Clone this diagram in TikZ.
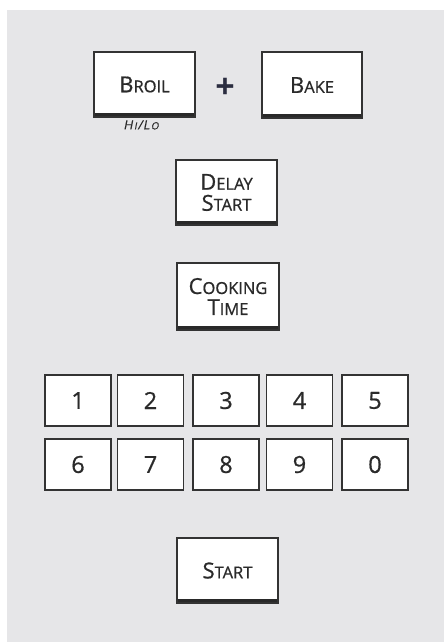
\documentclass[tikz,border=0pt]{standalone}
\usepackage{fontspec}
\setmainfont{Open Sans}
\newfontfamily\keyfont{Open Sans}[FakeBold=0.7]
\newfontfamily\keyitfont{Open Sans}[FakeBold=0.4,FakeSlant=0.2]
\definecolor{panel}{HTML}{E6E6E8}
\definecolor{ink}{HTML}{2A2A2A}
\definecolor{edge}{HTML}{333333}
\definecolor{plusc}{HTML}{2B2D40}
\newcommand{\capsc}[2]{{\fontsize{22}{21}\selectfont #1}{\fontsize{16.5}{21}\selectfont #2}}
\begin{document}
\begin{tikzpicture}[x=1pt,y=-1pt,
  fbtn/.style={rectangle, draw=edge, line width=1.3pt, fill=white, text=ink,
    minimum width=101pt, minimum height=65pt, inner sep=0pt, align=center,
    font=\keyfont\fontsize{16.5}{21}\selectfont},
  nbtn/.style={rectangle, draw=edge, line width=1.5pt, fill=white, text=ink,
    minimum width=66pt, minimum height=51pt, inner sep=0pt,
    font=\keyfont\fontsize{23.5}{23.5}\selectfont},
  bar/.style={fill=edge!80!black}]
\useasboundingbox (0,0) rectangle (444,642);
\fill[white] (0,0) rectangle (444,642);
\fill[panel] (7,10) rectangle (444,642);

% function buttons
\node[fbtn] (broil) at (144.5,84.5) {\capsc{B}{ROIL}};
\node[fbtn, minimum width=100pt, minimum height=66pt] (bake) at (312,85) {\capsc{B}{AKE}};
\node[fbtn] (delay) at (226.5,192.5) {\capsc{D}{ELAY}\\\capsc{S}{TART}};
\node[fbtn, minimum width=102pt, minimum height=67pt] (cook) at (228,296.5) {\capsc{C}{OOKING}\\\capsc{T}{IME}};
\node[fbtn] (start) at (227.5,570.5) {\capsc{S}{TART}};
\foreach \b in {broil,bake,delay,cook,start}{
  \fill[bar] ([shift={(1.5,-2)}]\b.south west) rectangle ([shift={(-1.5,-5)}]\b.south east);
}

\node[text=plusc, font=\fontsize{34}{34}\selectfont\bfseries, inner sep=0pt] (plus) at (225,88) {+};
\node[text=ink, font=\keyitfont, inner sep=0pt] (hilo) at (141,125)
  {\fontsize{12.5}{13}\selectfont H\kern1.4pt{\fontsize{10}{10}\selectfont I}\kern0.8pt/\kern0.8pt L\kern1.4pt{\fontsize{10}{10}\selectfont O}};

% number keys
\node[nbtn] (k1) at (78,400.5) {1};
\node[nbtn] (k2) at (150.5,400.5) {2};
\node[nbtn] (k3) at (226,400.5) {3};
\node[nbtn] (k4) at (299.5,400.5) {4};
\node[nbtn] (k5) at (375,400.5) {5};
\node[nbtn] (k6) at (78,464.5) {6};
\node[nbtn] (k7) at (150.5,464.5) {7};
\node[nbtn] (k8) at (226,464.5) {8};
\node[nbtn] (k9) at (299.5,464.5) {9};
\node[nbtn] (k0) at (375,464.5) {0};
\end{tikzpicture}
\end{document}
